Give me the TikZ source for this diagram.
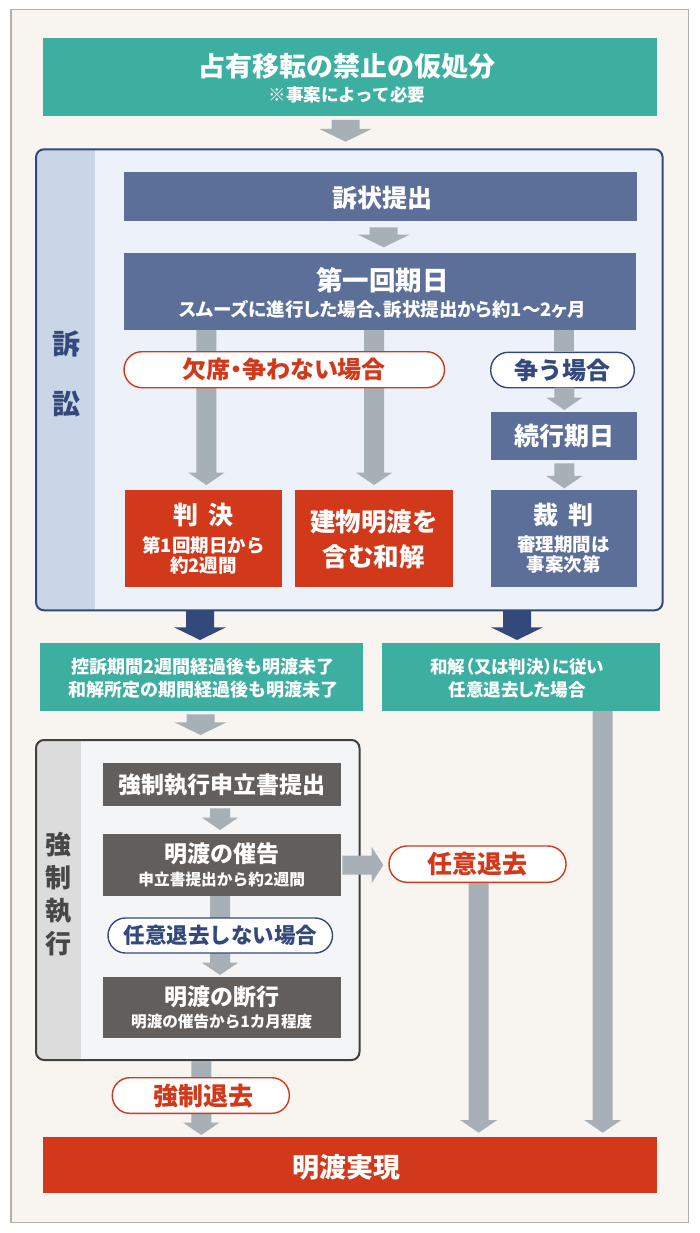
\documentclass[tikz,border=0pt]{standalone}
\usepackage{fontspec}
\setmainfont{Noto Sans CJK JP}
\newfontfamily\jpprop{Noto Sans CJK JP}[RawFeature=+palt]
\usetikzlibrary{calc}
\definecolor{bgc}{HTML}{F8F4F0}
\definecolor{framec}{HTML}{B3AFAB}
\definecolor{tealc}{HTML}{3DAFA1}
\definecolor{navybox}{HTML}{5C6F98}
\definecolor{navyc}{HTML}{34497B}
\definecolor{lightb}{HTML}{EDF1F9}
\definecolor{stripb}{HTML}{C9D6E8}
\definecolor{redc}{HTML}{D2381A}
\definecolor{agray}{HTML}{A7B0B6}
\definecolor{darkbox}{HTML}{625E5B}
\definecolor{kfill}{HTML}{F4F5F7}
\definecolor{kstrip}{HTML}{DCDCDC}
\definecolor{kborder}{HTML}{3F3F3F}
\definecolor{ktext}{HTML}{474747}
\newcommand\FS[1]{\fontsize{#1}{#1}\selectfont}
% #1 colour, #2 half shaft, #3 half head, #4 head length, #5 start, #6 tip
\newcommand\FatDown[6]{\fill[#1] let \p1=#5, \p2=#6 in
  (\x1-#2,\y1) -- (\x1+#2,\y1) -- (\x1+#2,\y2+#4) -- (\x1+#3,\y2+#4) --
  (\x1,\y2) -- (\x1-#3,\y2+#4) -- (\x1-#2,\y2+#4) -- cycle;}
\newcommand\FatRight[6]{\fill[#1] let \p1=#5, \p2=#6 in
  (\x1,\y1+#2) -- (\x2-#4,\y1+#2) -- (\x2-#4,\y1+#3) -- (\x2,\y1) --
  (\x2-#4,\y1-#3) -- (\x2-#4,\y1-#2) -- (\x1,\y1-#2) -- cycle;}
\newcommand\WideDown[3]{\FatDown{#1}{14pt}{26pt}{12.7pt}{#2}{#3}}
\newcommand\SlimDown[3]{\FatDown{#1}{10pt}{18.3pt}{12.5pt}{#2}{#3}}
\begin{document}
\begin{tikzpicture}[x=1pt,y=-1pt,
  box/.style={inner sep=0pt, outer sep=0pt, font=\bfseries, text=white},
  txt/.style={inner sep=0pt, outer sep=0pt, text=white, align=center},
  pill/.style={draw, fill=white, line width=1.4pt, rounded corners=17.5pt,
    inner sep=0pt, outer sep=0pt, align=center},
  frame/.style={inner sep=0pt, outer sep=0pt}]
\useasboundingbox (0,0) rectangle (700,1233);
\fill[white] (0,0) rectangle (700,1233);
\draw[fill=bgc, draw=framec, line width=1.2pt] (11,9.8) rectangle (688.3,1222.3);

% ---------- top box
\node[box, fill=tealc, minimum width=614pt, minimum height=77.7pt] (top) at (350.3,77.15) {};
\node[txt, font=\bfseries\FS{27}] (top-a) at (347,66.7) {占有移転の禁止の仮処分};
\node[txt, font=\bfseries\FS{17.5}] (top-b) at (347,95) {※事案によって必要};

% ---------- 訴訟 frame
\node[frame, fill=lightb, rounded corners=8pt, minimum width=626.6pt, minimum height=461pt] (sosho) at (349.3,379.8) {};
\begin{scope}
  \clip[rounded corners=8pt] (sosho.north west) rectangle (sosho.south east);
  \fill[stripb] (sosho.north west) rectangle ($(sosho.south west)+(59,0)$);
\end{scope}
\draw[navyc, line width=2pt, rounded corners=8pt] (sosho.north west) rectangle (sosho.south east);
\node[txt, text=navyc, font=\bfseries\fontsize{28}{60}\selectfont] (sosho-label) at (66,374) {訴\\訟};

\node[box, fill=navybox, minimum width=512.2pt, minimum height=49pt] (teishutsu) at (380.4,196.5) {};
\node[txt, font=\bfseries\FS{25}] (teishutsu-t) at (382.8,198) {訴状提出};

\node[box, fill=navybox, minimum width=512pt, minimum height=76.8pt] (daiichi) at (380.3,291.1) {};
\node[txt, font=\bfseries\FS{26.5}] (daiichi-a) at (382.5,280) {第一回期日};
\node[txt, font=\jpprop\bfseries\FS{18.5}] (daiichi-b) at (382.7,309) {スムーズに進行した場合、訴状提出から約1～2ヶ月};

\node[box, fill=navybox, minimum width=146.6pt, minimum height=48.3pt, font=\bfseries\FS{25}] (zokko) at (564,435.85) {続行期日};

\node[box, fill=redc, minimum width=157.7pt, minimum height=97pt] (hanketsu) at (203.35,538.5) {};
\node[txt, font=\bfseries\FS{25}] (hanketsu-a) at (203.5,515) {判 \kern5pt決};
\node[txt, font=\bfseries\fontsize{18.5}{20}\selectfont] (hanketsu-b) at (203.5,555) {第1回期日から\\約2週間};

\node[box, fill=redc, minimum width=157.7pt, minimum height=97pt] (wakai) at (373.85,538.5) {};
\node[txt, font=\bfseries\fontsize{25.5}{35}\selectfont] (wakai-t) at (373.9,539.5) {建物明渡を\\含む和解};

\node[box, fill=navybox, minimum width=146.6pt, minimum height=97pt] (saiban) at (564,538.5) {};
\node[txt, font=\bfseries\FS{25}] (saiban-a) at (563.6,515) {裁 \kern5pt判};
\node[txt, font=\bfseries\fontsize{18.5}{20}\selectfont] (saiban-b) at (563.6,555) {審理期間は\\事案次第};

% ---------- middle teal boxes
\node[box, fill=tealc, minimum width=322.7pt, minimum height=67.7pt] (tealL) at (201.35,677.15) {};
\node[txt, font=\bfseries\fontsize{18}{23.5}\selectfont] (tealL-t) at (203.3,678.25) {控訴期間2週間経過後も明渡未了\\和解所定の期間経過後も明渡未了};
\node[box, fill=tealc, minimum width=278.3pt, minimum height=67.7pt] (tealR) at (520.85,677.15) {};
\node[txt, font=\jpprop\bfseries\fontsize{17.5}{23.5}\selectfont] (tealR-t) at (517.3,678.25) {和解（又は判決）に従い\\任意退去した場合};

% ---------- 強制執行 frame
\node[frame, fill=kfill, rounded corners=8pt, minimum width=323.5pt, minimum height=320pt] (kyosei) at (197.75,900) {};
\begin{scope}
  \clip[rounded corners=8pt] (kyosei.north west) rectangle (kyosei.south east);
  \fill[kstrip] (kyosei.north west) rectangle ($(kyosei.south west)+(45,0)$);
\end{scope}
\draw[kborder, line width=2pt, rounded corners=8pt] (kyosei.north west) rectangle (kyosei.south east);
\node[txt, text=ktext, font=\bfseries\fontsize{26}{33}\selectfont] (kyosei-label) at (58.5,894.5) {強\\制\\執\\行};

\node[box, fill=darkbox, minimum width=237.4pt, minimum height=42.7pt, font=\bfseries\FS{23}] (moushitate) at (222,784.65) {強制執行申立書提出};
\node[box, fill=darkbox, minimum width=237.4pt, minimum height=62pt] (saikoku) at (222,865) {};
\node[txt, font=\bfseries\FS{23}] (saikoku-a) at (221.5,854) {明渡の催告};
\node[txt, font=\bfseries\FS{15.7}] (saikoku-b) at (221.7,879.5) {申立書提出から約2週間};
\node[box, fill=darkbox, minimum width=237.4pt, minimum height=61.6pt] (danko) at (222,1007.5) {};
\node[txt, font=\bfseries\FS{23}] (danko-a) at (221.5,997) {明渡の断行};
\node[txt, font=\bfseries\FS{15.6}] (danko-b) at (221.7,1021.5) {明渡の催告から1カ月程度};

% ---------- final box
\node[box, fill=redc, minimum width=614pt, minimum height=55.4pt] (akewatashi) at (350.3,1165) {};
\node[txt, font=\bfseries\FS{27}] (akewatashi-t) at (346,1167) {明渡実現};

% ---------- arrows between boxes
\WideDown{agray}{($(top.south)+(-4.8,4)$)}{($(sosho.north)+(0,-7.6)$)}
\WideDown{agray}{($(teishutsu.south)+(3.3,6.3)$)}{($(daiichi.north)+(0,-5.4)$)}
\SlimDown{agray}{($(daiichi.south -| hanketsu.north)+(3,0.5)$)}{($(hanketsu.north)+(0,-5)$)}
\SlimDown{agray}{($(daiichi.south -| wakai.north)+(0.2,0.5)$)}{($(wakai.north)+(0,-5)$)}
\SlimDown{agray}{($(zokko.south)+(0.3,3.3)$)}{($(saiban.north)+(0,-1.7)$)}
\WideDown{navyc}{($(sosho.south -| tealL.north)+(-1.35,0)$)}{($(tealL.north)+(0,-3.3)$)}
\WideDown{navyc}{($(sosho.south -| tealR.north)+(-3.85,0)$)}{($(tealR.north)+(0,-3.3)$)}
\WideDown{agray}{($(tealL.south)+(-0.85,3.3)$)}{($(kyosei.north)+(0,-5)$)}
\SlimDown{agray}{($(tealR.south)+(81.85,0)$)}{($(akewatashi.north)+(0,-4.6)$)}
\SlimDown{agray}{($(moushitate.south)+(-2,2.3)$)}{($(saikoku.north)+(0,-4)$)}
\SlimDown{agray}{($(saikoku.south)+(-2,0)$)}{($(danko.north)+(0,-1.7)$)}
\SlimDown{agray}{($(kyosei.south)+(3.55,1)$)}{($(akewatashi.north)+(0,-2.3)$)}

% ---------- pills
\node[pill, draw=redc, text=redc, minimum width=320.5pt, minimum height=36pt, rounded corners=18pt, font=\jpprop\bfseries\FS{24}] (kesseki) at (284.25,369.7) {欠席・争わない場合};
\node[pill, draw=navyc, text=navyc, minimum width=143.6pt, minimum height=35.4pt, font=\bfseries\FS{24}] (arasou) at (562.5,370) {争う場合};
\node[pill, draw=navyc, text=navyc, minimum width=224.5pt, minimum height=35pt, font=\bfseries\FS{21.5}] (shinai) at (220.25,935.5) {任意退去しない場合};
\node[pill, draw=redc, text=redc, minimum width=177pt, minimum height=36.3pt, rounded corners=18pt, font=\bfseries\FS{25}] (nini) at (477.5,864.15) {任意退去};
\node[pill, draw=redc, minimum width=177pt, minimum height=35.6pt] (kyoseitaikyo) at (200.8,1095.5) {};
\node[txt, text=redc, font=\bfseries\FS{25}] (kyoseitaikyo-t) at (203.7,1096) {強制退去};

% ---------- arrows touching pills
\fill[agray] let \p1=($(daiichi.south -| arasou.north)+(1.8,0.5)$), \p2=(arasou.north) in (\x1-10pt,\y1) rectangle (\x1+10pt,\y2);
\SlimDown{agray}{($(arasou.south)+(1.8,0)$)}{($(zokko.north)+(0,-1.7)$)}
\FatRight{agray}{9.5pt}{18pt}{11.6pt}{($(saikoku.east)+(1.6,0)$)}{($(nini.west)+(-5.7,0)$)}
\SlimDown{agray}{($(nini.south)+(1.2,0.7)$)}{($(akewatashi.north)+(0,-4.6)$)}
\end{tikzpicture}
\end{document}
